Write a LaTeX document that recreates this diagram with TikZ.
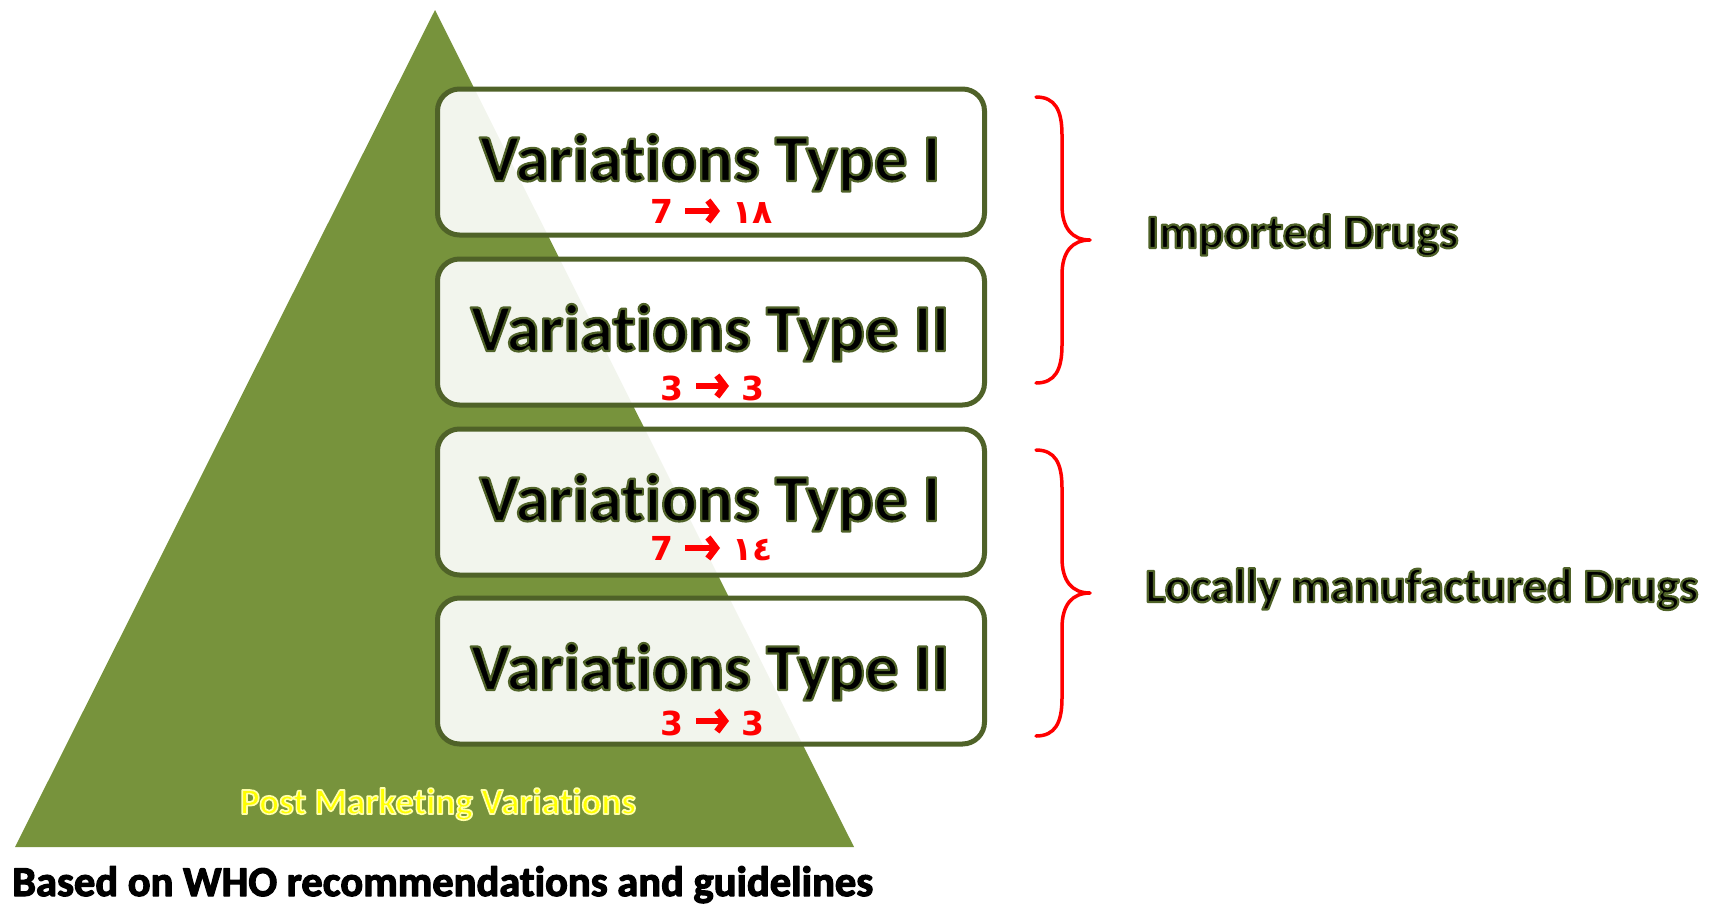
\documentclass[tikz,border=0pt]{standalone}
\usepackage{fontspec}
\setmainfont{Carlito}[Ligatures=NoCommon]
\newfontfamily\numfont{DejaVu Sans}
\usetikzlibrary{arrows.meta}
\definecolor{olivefill}{HTML}{77933C}
\definecolor{oliveline}{HTML}{4F6228}
\definecolor{bracered}{HTML}{FF0000}
\definecolor{labelyellow}{HTML}{FFFF00}
\tikzset{
  layerbox/.style={draw=oliveline, line width=5pt, rounded corners=22pt,
    fill=white, fill opacity=0.91, minimum width=547pt, minimum height=146pt,
    inner sep=0pt},
  boxtitle/.style={anchor=base, inner sep=0pt,
    font=\fontsize{67}{72}\selectfont\bfseries},
  digitleft/.style={anchor=base east, inner sep=0pt, text=bracered,
    font=\numfont\fontsize{33}{36}\selectfont\bfseries},
  digitright/.style={digitleft, anchor=base west},
  countarrow/.style={draw=bracered, line width=6.5pt,
    -{Straight Barb[length=8pt, width=21pt, line width=6.5pt]}},
  sidelabel/.style={anchor=base west, inner sep=0pt,
    font=\fontsize{48}{52}\selectfont\bfseries},
  curlybrace/.style={draw=bracered, line width=3.5pt, line cap=round, line join=round},
}
% lettering filled in the current colour and stroked with a rim:
% #1 = rim colour (r g b), #2 = rim width, #3 = text
\newcommand\rimtext[3]{\special{pdf:literal direct #1 RG #2 w 1 j 2 Tr}#3\special{pdf:literal direct 0 Tr}}
\newcommand\olivetext[1]{\rimtext{0.310 0.384 0.157}{2.2}{#1}}
\begin{document}
\begin{tikzpicture}[x=1pt, y=-1pt]
\useasboundingbox (0,0) rectangle (1718,905);

% pyramid
\fill[olivefill] (435,10) -- (854,847) -- (15,847) -- cycle;

% stacked layers
\node[layerbox] (b1) at (711,162) {};
\node[layerbox] (b2) at (711,332) {};
\node[layerbox] (b3) at (711,502) {};
\node[layerbox] (b4) at (711,671) {};

% layer titles
\node[boxtitle] (t1) at (710,181) {\olivetext{Variations Type I}};
\node[boxtitle] (t2) at (710,351) {\olivetext{Variations Type II}};
\node[boxtitle] (t3) at (710,521) {\olivetext{Variations Type I}};
\node[boxtitle] (t4) at (710,690) {\olivetext{Variations Type II}};

% day counts: old value, arrow, new value
\node[digitleft]  (c1a) at (674,223) {7};
\node[digitright] (c1b) at (732,223) {١٨};
\node[digitleft]  (c2a) at (684,400) {3};
\node[digitright] (c2b) at (741,400) {3};
\node[digitleft]  (c3a) at (674,560) {7};
\node[digitright] (c3b) at (732,560) {١٤};
\node[digitleft]  (c4a) at (684,735) {3};
\node[digitright] (c4b) at (741,735) {3};
\draw[countarrow] ([xshift=11pt, yshift=12pt]c1a.base east) -- ([xshift=-12pt, yshift=12pt]c1b.base west);
\draw[countarrow] ([xshift=12pt, yshift=14pt]c2a.base east) -- ([xshift=-12pt, yshift=14pt]c2b.base west);
\draw[countarrow] ([xshift=11pt, yshift=12pt]c3a.base east) -- ([xshift=-12pt, yshift=12pt]c3b.base west);
\draw[countarrow] ([xshift=12pt, yshift=14pt]c4a.base east) -- ([xshift=-12pt, yshift=14pt]c4b.base west);

% braces
\foreach \dy/\nm in {0/ba, 353/bb}{
  \coordinate (\nm-top) at (1036,97+\dy);
  \coordinate (\nm-tip) at (1090,240+\dy);
  \coordinate (\nm-bot) at (1036,383+\dy);
  \draw[curlybrace] (\nm-top) .. controls (1055,97+\dy) and (1062,110+\dy) .. (1062,135+\dy)
    -- (1062,205+\dy) .. controls (1062,228+\dy) and (1072,240+\dy) .. (\nm-tip)
    .. controls (1072,240+\dy) and (1062,252+\dy) .. (1062,275+\dy)
    -- (1062,345+\dy) .. controls (1062,370+\dy) and (1055,383+\dy) .. (\nm-bot);
}

% group labels
\node[sidelabel] (imp) at (1146,248) {\olivetext{Imported Drugs}};
\node[sidelabel] (loc) at (1145,602) {\olivetext{Locally manufactured Drugs}};

% pyramid caption and footnote
\node[anchor=base, inner sep=0pt, text=labelyellow, font=\fontsize{37}{40}\selectfont\bfseries]
  (pmv) at (438,814) {\rimtext{1 1 0.66}{1.6}{Post Marketing Variations}};
\node[anchor=base west, inner sep=0pt, font=\fontsize{42.5}{46}\selectfont\bfseries]
  (who) at (12,896) {\rimtext{0 0 0}{1.2}{Based on WHO recommendations and guidelines}};
\end{tikzpicture}
\end{document}
